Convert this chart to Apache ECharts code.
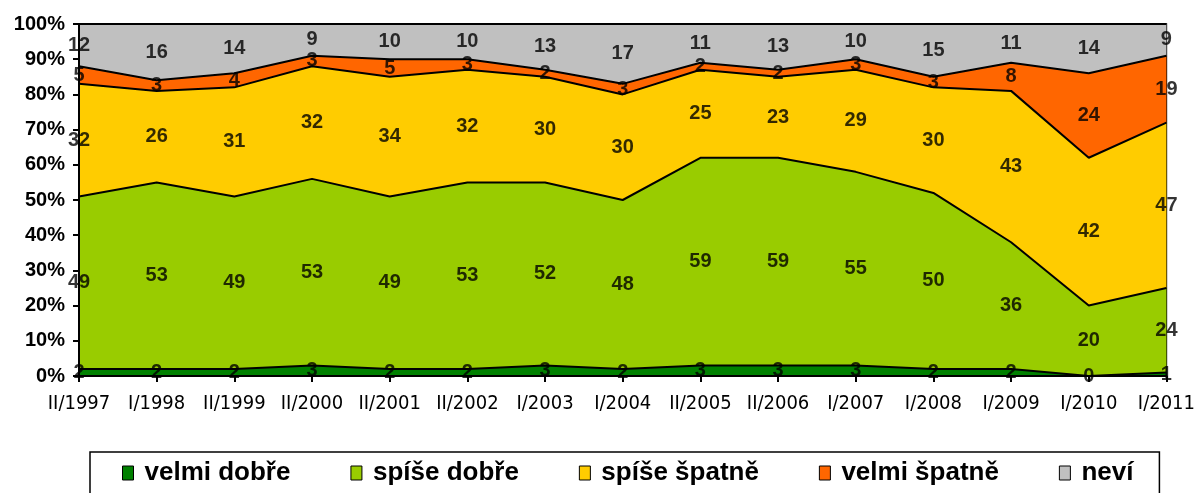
<!DOCTYPE html>
<html>
<head>
<meta charset="utf-8">
<script src="https://cdn.jsdelivr.net/npm/echarts@6/dist/echarts.min.js"></script>
<style>
  html, body { margin: 0; padding: 0; background: #fff; }
  #chart { width: 1198px; height: 493px; }
</style>
</head>
<body>
<div id="chart"></div>
<script>
const categories = ['II/1997', 'I/1998', 'II/1999', 'II/2000', 'II/2001', 'II/2002', 'I/2003', 'I/2004',
  'II/2005', 'II/2006', 'I/2007', 'I/2008', 'I/2009', 'I/2010', 'I/2011'];

const velmiDobre = [2, 2, 2, 3, 2, 2, 3, 2, 3, 3, 3, 2, 2, 0, 1];
const spiseDobre = [49, 53, 49, 53, 49, 53, 52, 48, 59, 59, 55, 50, 36, 20, 24];
const spiseSpatne = [32, 26, 31, 32, 34, 32, 30, 30, 25, 23, 29, 30, 43, 42, 47];
const velmiSpatne = [5, 3, 4, 3, 5, 3, 2, 3, 2, 2, 3, 3, 8, 24, 19];
const nevi = [12, 16, 14, 9, 10, 10, 13, 17, 11, 13, 10, 15, 11, 14, 9];

const seriesNames = ['velmi dobře', 'spíše dobře', 'spíše špatně', 'velmi špatně', 'neví'];
const seriesColors = ['#008000', '#99cc00', '#ffcc00', '#ff6600', '#c0c0c0'];

const FONT = "'Liberation Sans', Arial, sans-serif";
const allData = [velmiDobre, spiseDobre, spiseSpatne, velmiSpatne, nevi];

// label points sit in the middle of each band
const labelPoints = [];
allData.forEach((arr, s) => {
  arr.forEach((v, i) => {
    let below = 0;
    for (let k = 0; k < s; k++) below += allData[k][i];
    labelPoints.push([i, below + v / 2, v]);
  });
});

const myChart = echarts.init(document.getElementById('chart'));

const series = allData.map((arr, s) => ({
  name: seriesNames[s],
  type: 'line',
  stack: 'total',
  symbol: 'none',
  data: arr,
  itemStyle: { color: seriesColors[s] },
  lineStyle: { color: '#000', width: 2 },
  areaStyle: { color: seriesColors[s], opacity: 1 },
  z: 2
}));

series.push({
  name: 'labels',
  type: 'scatter',
  symbolSize: 0,
  data: labelPoints,
  z: 5,
  label: {
    show: true,
    position: 'inside',
    formatter: p => p.value[2],
    color: '#000',
    fontFamily: FONT,
    fontWeight: 'bold',
    fontSize: 20
  }
});

myChart.setOption({
  animation: false,
  backgroundColor: '#fff',
  grid: {
    left: 79,
    right: 30,
    top: 24,
    bottom: 117,
    show: true,
    borderColor: '#000',
    borderWidth: 1.5,
    backgroundColor: 'transparent'
  },
  legend: {
    data: seriesNames,
    left: 90,
    top: 452,
    padding: [8, 26, 8, 32],
    borderColor: '#000',
    borderWidth: 1.5,
    icon: 'rect',
    itemWidth: 11,
    itemHeight: 14,
    itemGap: 60,
    itemStyle: { borderColor: '#000', borderWidth: 1 },
    textStyle: {
      color: '#000',
      fontFamily: FONT,
      fontWeight: 'bold',
      fontSize: 26,
      padding: [0, 0, 0, 6]
    }
  },
  xAxis: {
    type: 'category',
    boundaryGap: false,
    data: categories,
    axisLine: { lineStyle: { color: '#000', width: 2 } },
    axisTick: { show: true, length: 6, lineStyle: { color: '#000', width: 2 } },
    axisLabel: {
      color: '#000',
      fontFamily: "'Liberation Sans Narrow', 'DejaVu Sans Condensed', 'Liberation Sans', sans-serif",
      fontSize: 20,
      margin: 18,
      interval: 0
    },
    splitLine: { show: false },
    z: 10
  },
  yAxis: {
    type: 'value',
    min: 0,
    max: 100,
    interval: 10,
    axisLine: { show: true, lineStyle: { color: '#000', width: 2 } },
    axisTick: { show: true, length: 6, lineStyle: { color: '#000', width: 2 } },
    axisLabel: {
      color: '#000',
      fontFamily: FONT,
      fontWeight: 'bold',
      fontSize: 20,
      margin: 14,
      formatter: '{value}%'
    },
    splitLine: { show: false },
    z: 10
  },
  series
});
</script>
</body>
</html>
